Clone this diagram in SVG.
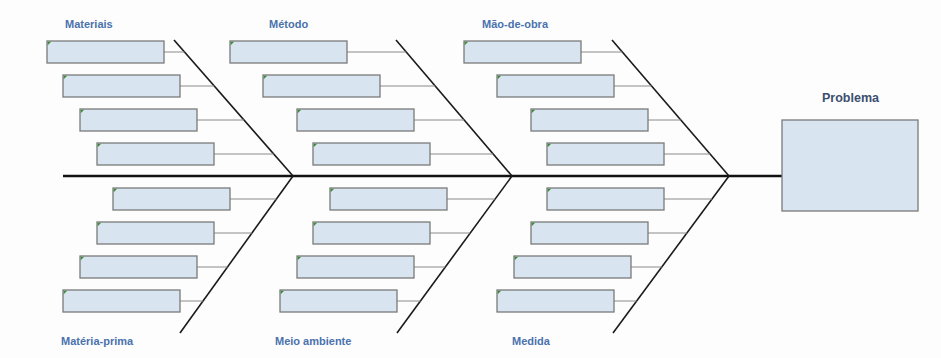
<svg xmlns="http://www.w3.org/2000/svg" width="941" height="358" viewBox="0 0 941 358">
<style>
.box{fill:#d8e5f0;stroke:#7a7a7a;stroke-width:1.3}
.mark{fill:#3f8a36}
.cat{font-family:"Liberation Sans",Arial,sans-serif;font-weight:bold;font-size:11px;fill:#4a72ad}
.prob{font-family:"Liberation Sans",Arial,sans-serif;font-weight:bold;font-size:12.5px;fill:#3b4f70}
.stub{stroke:#8a8a8a;stroke-width:1;fill:none}
.bone{stroke:#1a1a1a;stroke-width:1.6;fill:none}
.spine{stroke:#111;stroke-width:2.6;fill:none}
</style>
<defs>
<g id="cb"><rect class="box" x="0" y="0" width="117" height="22"/><path class="mark" d="M0.7,0.7 h3.5 l-3.5,3.5 z"/></g>
</defs>
<rect x="0" y="0" width="941" height="358" fill="#fdfdfd"/>
<g id="connectors">
<line class="spine" x1="63" y1="176" x2="782" y2="176"/>
<line class="bone" x1="174" y1="40" x2="293" y2="176"/>
<line class="bone" x1="396" y1="40" x2="512" y2="176"/>
<line class="bone" x1="612" y1="40" x2="729" y2="176"/>
<line class="bone" x1="293" y1="176" x2="180" y2="333"/>
<line class="bone" x1="512" y1="176" x2="397" y2="333"/>
<line class="bone" x1="729" y1="176" x2="613" y2="333"/>
<line class="stub" x1="164" y1="52" x2="184.5" y2="52"/>
<line class="stub" x1="180" y1="86" x2="214.3" y2="86"/>
<line class="stub" x1="197" y1="120" x2="244" y2="120"/>
<line class="stub" x1="214" y1="154" x2="273.8" y2="154"/>
<line class="stub" x1="347" y1="52" x2="406.2" y2="52"/>
<line class="stub" x1="380" y1="86" x2="435.2" y2="86"/>
<line class="stub" x1="414" y1="120" x2="464.2" y2="120"/>
<line class="stub" x1="430" y1="154" x2="493.2" y2="154"/>
<line class="stub" x1="581" y1="52" x2="622.3" y2="52"/>
<line class="stub" x1="614" y1="86" x2="651.6" y2="86"/>
<line class="stub" x1="648" y1="120" x2="680.8" y2="120"/>
<line class="stub" x1="664" y1="154" x2="710" y2="154"/>
<line class="stub" x1="230" y1="199" x2="276.4" y2="199"/>
<line class="stub" x1="214" y1="233" x2="252" y2="233"/>
<line class="stub" x1="197" y1="267" x2="227.5" y2="267"/>
<line class="stub" x1="180" y1="301" x2="203" y2="301"/>
<line class="stub" x1="447" y1="199" x2="495.2" y2="199"/>
<line class="stub" x1="430" y1="233" x2="470.2" y2="233"/>
<line class="stub" x1="414" y1="267" x2="445.3" y2="267"/>
<line class="stub" x1="397" y1="301" x2="420.4" y2="301"/>
<line class="stub" x1="664" y1="199" x2="712" y2="199"/>
<line class="stub" x1="648" y1="233" x2="686.9" y2="233"/>
<line class="stub" x1="631" y1="267" x2="661.8" y2="267"/>
<line class="stub" x1="614" y1="301" x2="636.6" y2="301"/>
</g>
<g id="materiais">
<text class="cat" x="65" y="28">Materiais</text>
<use href="#cb" x="47" y="41"/><use href="#cb" x="63" y="75"/><use href="#cb" x="80" y="109"/><use href="#cb" x="97" y="143"/>
</g>
<g id="metodo">
<text class="cat" x="269" y="28">Método</text>
<use href="#cb" x="230" y="41"/><use href="#cb" x="263" y="75"/><use href="#cb" x="297" y="109"/><use href="#cb" x="313" y="143"/>
</g>
<g id="mao-de-obra">
<text class="cat" x="482" y="28">Mão-de-obra</text>
<use href="#cb" x="464" y="41"/><use href="#cb" x="497" y="75"/><use href="#cb" x="531" y="109"/><use href="#cb" x="547" y="143"/>
</g>
<g id="materia-prima">
<text class="cat" x="61" y="345">Matéria-prima</text>
<use href="#cb" x="113" y="188"/><use href="#cb" x="97" y="222"/><use href="#cb" x="80" y="256"/><use href="#cb" x="63" y="290"/>
</g>
<g id="meio-ambiente">
<text class="cat" x="275" y="345">Meio ambiente</text>
<use href="#cb" x="330" y="188"/><use href="#cb" x="313" y="222"/><use href="#cb" x="297" y="256"/><use href="#cb" x="280" y="290"/>
</g>
<g id="medida">
<text class="cat" x="512" y="345">Medida</text>
<use href="#cb" x="547" y="188"/><use href="#cb" x="531" y="222"/><use href="#cb" x="514" y="256"/><use href="#cb" x="497" y="290"/>
</g>
<g id="problema">
<text class="prob" x="822" y="102">Problema</text>
<rect class="box" x="782" y="120" width="136" height="91"/>
</g>
</svg>
